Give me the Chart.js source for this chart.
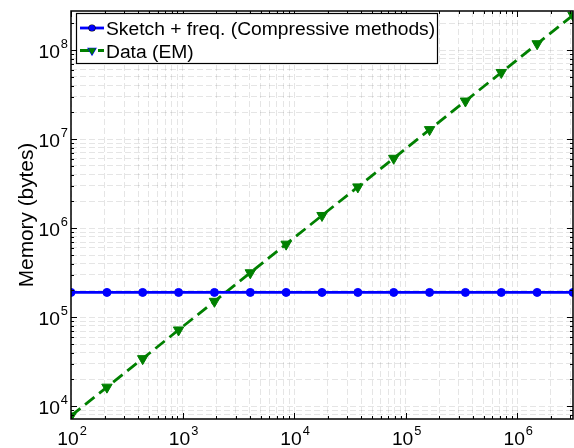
<!DOCTYPE html>
<html>
<head>
<meta charset="utf-8">
<script src="https://cdn.jsdelivr.net/npm/chart.js@4/dist/chart.umd.min.js"></script>
<style>
  html, body { margin: 0; padding: 0; background: #fff; }
  #wrap { width: 574px; height: 448px; }
</style>
</head>
<body>
<div id="wrap"><canvas id="c" width="574" height="448"></canvas></div>
<script>
// Problem size (x) and memory footprint in bytes for each method
const problemSize = [100, 210, 439, 921, 1931, 4048, 8483, 17783, 37276, 78137, 163789, 343322, 719686, 1508591, 3162278];
const sketchMemory = [190000, 190000, 190000, 190000, 190000, 190000, 190000, 190000, 190000, 190000, 190000, 190000, 190000, 190000, 190000];
const dataMemory = [7800, 16400, 34300, 72000, 151000, 316000, 662000, 1390000, 2910000, 6100000, 12800000, 26800000, 56100000, 118000000, 246000000];
const seriesLabels = ['Sketch + freq. (Compressive methods)', 'Data (EM)'];
const xTickExponents = [2, 3, 4, 5, 6];
const yTickExponents = [4, 5, 6, 7, 8];
const yAxisTitle = 'Memory (bytes)';

const X_MIN = 100, X_MAX = 3162278;
const Y_MIN = 7200, Y_MAX = 2.75e8;

const FONT = '"Liberation Sans", Arial, Helvetica, sans-serif';
const STRETCH = 1.07;

// 1..9 x 10^e grid positions inside [min, max]
function decadeTicks(min, max) {
  const out = [];
  const e0 = Math.floor(Math.log10(min)), e1 = Math.floor(Math.log10(max));
  for (let e = e0; e <= e1; e++) {
    for (let k = 1; k <= 9; k++) {
      const v = k * Math.pow(10, e);
      if (v >= min * 0.9999 && v <= max * 1.0001) out.push({ value: v, major: k === 1 });
    }
  }
  return out;
}

function textWidth(ctx, s, sx) { return ctx.measureText(s).width * (sx || STRETCH); }
function drawText(ctx, s, x, y, sx) {
  ctx.save();
  ctx.translate(x, y);
  ctx.scale(sx || STRETCH, 1);
  ctx.fillText(s, 0, 0);
  ctx.restore();
}

// "10" with a raised exponent
function drawPower(ctx, exp, x, baseline, anchor) {
  ctx.font = '18px ' + FONT;
  const wb = textWidth(ctx, '10');
  ctx.font = '12px ' + FONT;
  const we = textWidth(ctx, String(exp));
  const total = wb + we + 1;
  let left = anchor === 'center' ? x - total / 2 : x - total;
  ctx.textAlign = 'left';
  ctx.textBaseline = 'alphabetic';
  ctx.fillStyle = '#000';
  ctx.font = '18px ' + FONT;
  drawText(ctx, '10', left, baseline);
  ctx.font = '12px ' + FONT;
  drawText(ctx, String(exp), left + wb + 1, baseline - 10.5);
}

const axesFrame = {
  id: 'axesFrame',
  afterDatasetsDraw(chart) {
    const ctx = chart.ctx;
    const a = chart.chartArea;
    const xs = chart.scales.x, ys = chart.scales.y;
    ctx.save();
    ctx.strokeStyle = '#000';
    ctx.lineWidth = 1;
    // inward tick marks on all four sides
    ctx.beginPath();
    xs.ticks.forEach(t => {
      const px = Math.round(xs.getPixelForValue(t.value)) + 0.5;
      const len = t.major ? 6 : 3;
      ctx.moveTo(px, a.bottom); ctx.lineTo(px, a.bottom - len);
      ctx.moveTo(px, a.top); ctx.lineTo(px, a.top + len);
    });
    ys.ticks.forEach(t => {
      const py = Math.round(ys.getPixelForValue(t.value)) + 0.5;
      const len = t.major ? 6 : 3;
      ctx.moveTo(a.left, py); ctx.lineTo(a.left + len, py);
      ctx.moveTo(a.right, py); ctx.lineTo(a.right - len, py);
    });
    ctx.stroke();
    // box
    ctx.lineWidth = 1.5;
    ctx.strokeRect(a.left, a.top, a.right - a.left, a.bottom - a.top);

    // tick labels
    xTickExponents.forEach(e => {
      const px = xs.getPixelForValue(Math.pow(10, e));
      drawPower(ctx, e, px + 1, 445, 'center');
    });
    yTickExponents.forEach(e => {
      const py = ys.getPixelForValue(Math.pow(10, e));
      drawPower(ctx, e, 68, py + 8, 'right');
    });

    // y axis title
    ctx.font = '20px ' + FONT;
    ctx.fillStyle = '#000';
    ctx.save();
    ctx.translate(33, 215);
    ctx.rotate(-Math.PI / 2);
    ctx.textBaseline = 'alphabetic';
    const tw = textWidth(ctx, yAxisTitle, 1.04);
    drawText(ctx, yAxisTitle, -tw / 2, 0, 1.04);
    ctx.restore();

    // legend box
    const lx = 76, ly = 13, lw = 361, lh = 50;
    ctx.fillStyle = '#fff';
    ctx.fillRect(lx, ly, lw, lh);
    ctx.lineWidth = 1.2;
    ctx.strokeStyle = '#000';
    ctx.strokeRect(lx + 0.5, ly + 0.5, lw, lh);
    chart.data.datasets.forEach((ds, i) => {
      const cy = 28 + i * 22.5;
      ctx.save();
      ctx.strokeStyle = ds.borderColor;
      ctx.lineWidth = ds.borderWidth;
      ctx.setLineDash(ds.borderDash || []);
      ctx.beginPath();
      ctx.moveTo(80, cy); ctx.lineTo(104, cy);
      ctx.stroke();
      ctx.restore();
      Chart.helpers.drawPoint(ctx, {
        pointStyle: ds.pointStyle,
        rotation: ds.pointRotation || 0,
        radius: ds.pointRadius * 0.75,
        borderWidth: 1
      }, 92, cy);
      ctx.fillStyle = ds.borderColor;
      ctx.strokeStyle = ds.borderColor;
      ctx.fill();
      ctx.fillStyle = '#000';
      ctx.font = '18px ' + FONT;
      ctx.textBaseline = 'alphabetic';
      drawText(ctx, ds.label, 106, cy + 7);
    });
    ctx.restore();
  }
};

function gridScale(min, max) {
  return {
    type: 'logarithmic',
    min: min,
    max: max,
    afterBuildTicks: s => { s.ticks = decadeTicks(min, max); },
    afterFit: s => { if (s.isHorizontal()) s.height = 0; else s.width = 0; },
    ticks: { display: false },
    grid: { display: true, color: 'rgba(0,0,0,0.10)', lineWidth: 1, drawTicks: false },
    border: { display: false, dash: [6, 3] }
  };
}

new Chart(document.getElementById('c'), {
  type: 'line',
  data: {
    datasets: [
      {
        label: seriesLabels[0],
        data: problemSize.map((x, i) => ({ x: x, y: sketchMemory[i] })),
        borderColor: '#0000ff',
        backgroundColor: '#0000ff',
        borderWidth: 2.8,
        pointStyle: 'circle',
        pointRadius: 4,
        pointBorderWidth: 1,
        tension: 0
      },
      {
        label: seriesLabels[1],
        data: problemSize.map((x, i) => ({ x: x, y: dataMemory[i] })),
        borderColor: '#008000',
        backgroundColor: '#008000',
        borderWidth: 2.8,
        borderDash: [12, 6],
        pointStyle: 'triangle',
        pointRotation: 180,
        pointRadius: 6,
        pointBorderWidth: 1,
        tension: 0
      }
    ]
  },
  options: {
    responsive: false,
    animation: false,
    events: [],
    layout: { autoPadding: false, padding: { left: 71, right: 1, top: 11, bottom: 29 } },
    plugins: { legend: { display: false }, tooltip: { enabled: false } },
    scales: {
      x: gridScale(X_MIN, X_MAX),
      y: gridScale(Y_MIN, Y_MAX)
    }
  },
  plugins: [axesFrame]
});
</script>
</body>
</html>
